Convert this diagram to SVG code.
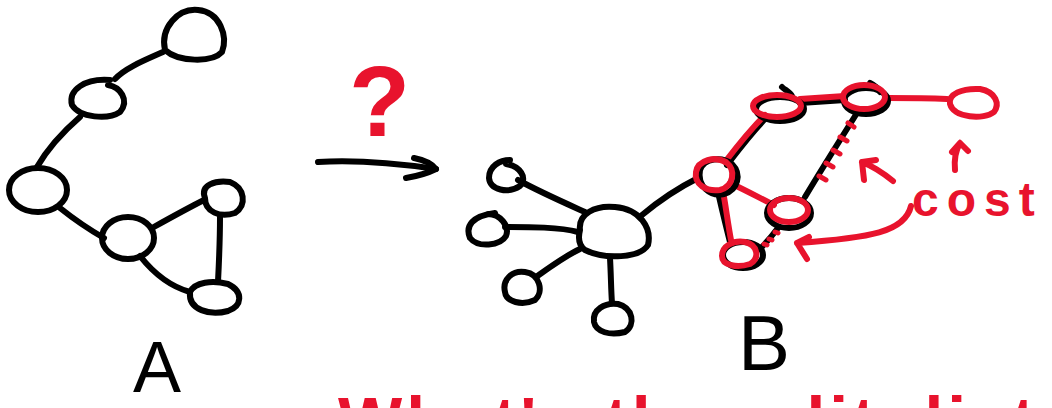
<svg xmlns="http://www.w3.org/2000/svg" width="1052" height="408" viewBox="0 0 1052 408">
  <style>
    .ink { fill: none; stroke: #000; stroke-width: 6; stroke-linecap: round; stroke-linejoin: round; }
    .red { fill: none; stroke: #e8132d; stroke-width: 6; stroke-linecap: round; stroke-linejoin: round; }
    .dots { fill: none; stroke: #e8132d; stroke-width: 5; stroke-linecap: round; }
    .hand { font-family: "Liberation Sans", "DejaVu Sans", sans-serif; font-weight: bold; fill: #e8132d; }
    .label { font-family: "Liberation Sans", "DejaVu Sans", sans-serif; fill: #000; }
  </style>
  <rect width="1052" height="408" fill="#fff"/>

  <!-- connectors -->
  <g id="connectors">
    <!-- graph A -->
    <path class="ink" d="M163 52 C 145 60, 125 68, 115 79"/>
    <path class="ink" d="M80 117 C 65 130, 48 148, 37 167"/>
    <path class="ink" d="M60 208 C 75 220, 90 230, 104 238"/>
    <path class="ink" d="M152 228 C 170 218, 188 208, 204 200"/>
    <path class="ink" d="M220 217 C 220 240, 219 262, 218 282"/>
    <path class="ink" d="M140 256 C 155 275, 172 287, 190 292"/>
    <!-- graph B, black part -->
    <path class="ink" d="M518 180 C 540 192, 565 203, 585 212"/>
    <path class="ink" d="M505 227 C 530 227, 560 227, 578 232"/>
    <path class="ink" d="M536 277 C 550 267, 565 256, 580 249"/>
    <path class="ink" d="M610 258 C 611 275, 611 290, 612 303"/>
    <path class="ink" d="M642 215 C 660 200, 678 188, 698 178"/>
    <!-- black shadows under the red path -->
    <path class="ink" d="M727 165 C 740 148, 752 132, 767 117"/>
    <path class="ink" d="M800 103 C 815 102, 830 101, 845 100"/>
    <path class="ink" d="M718 192 C 722 210, 726 226, 730 242"/>
    <!-- edges that get removed (dotted) -->
    <path class="ink" d="M857 113 C 840 140, 820 172, 805 197"/>
    <path class="ink" d="M778 228 C 772 236, 766 243, 760 249"/>
    <!-- red path -->
    <path class="red" d="M725 162 C 738 145, 750 130, 765 115"/>
    <path class="red" d="M800 99 C 815 98, 830 97, 845 96"/>
    <path class="red" d="M888 98 C 905 98, 925 98, 947 99"/>
    <path class="red" d="M730 183 C 745 190, 760 198, 774 205"/>
    <path class="red" d="M723 191 C 726 208, 728 224, 731 240"/>
    <!-- red cost marks on the removed edges -->
    <path class="dots" d="M848 123 l6 4 M840 137 l7 4 M833 150 l7 4 M826 163 l7 4 M819 176 l7 4"/>
    <path class="dots" d="M775 232 l3 1 M769 239 l3 1 M764 244 l3 1"/>
    <!-- transition arrow between A and B -->
    <path class="ink" d="M318 162 C 350 160, 395 163, 436 169"/>
    <path class="ink" d="M414 158 C 424 160, 432 164, 436 169 C 428 173, 418 176, 406 178"/>
    <!-- cost pointers -->
    <path class="red" d="M893 181 C 882 172, 872 166, 862 162 M862 162 L876 160 M862 162 L864 180"/>
    <path class="red" d="M955 170 C 954 160, 956 150, 960 143 M960 143 L952 152 M960 143 L968 151"/>
    <path class="red" d="M911 206 C 905 232, 870 238, 797 243 M797 243 L809 237 M797 243 L807 259"/>
  </g>

  <!-- graph A nodes -->
  <g id="a1"><path class="ink" d="M165 50 C 160 28, 178 8, 198 10 C 220 12, 228 36, 222 52 C 212 63, 178 62, 165 50 Z"/></g>
  <g id="a2"><path class="ink" d="M108 85 C 120 87, 130 100, 120 112 C 108 120, 80 118, 72 105 C 68 90, 85 78, 110 80"/></g>
  <g id="a3"><ellipse class="ink" cx="38" cy="190" rx="29" ry="22"/></g>
  <g id="a4"><ellipse class="ink" cx="128" cy="238" rx="26" ry="21"/></g>
  <g id="a5"><path class="ink" d="M205 198 C 200 185, 215 180, 230 182 C 245 188, 247 205, 235 213 C 220 218, 205 212, 205 198 Z"/></g>
  <g id="a6"><path class="ink" d="M190 292 C 195 282, 212 280, 228 284 C 244 292, 242 306, 228 311 C 210 316, 188 310, 190 292 Z"/></g>

  <!-- graph B nodes -->
  <g id="b-hub"><path class="ink" d="M580 230 C 578 214, 595 205, 615 207 C 640 209, 652 228, 648 245 C 640 258, 605 260, 585 250 C 578 245, 578 238, 580 230 Z"/></g>
  <g id="b-leaf1"><path class="ink" d="M506 164 C 520 166, 528 178, 520 186 C 508 194, 490 190, 489 178 C 489 166, 500 160, 510 160"/></g>
  <g id="b-leaf2"><path class="ink" d="M488 214 C 500 214, 510 226, 506 236 C 500 246, 478 248, 470 238 C 465 226, 472 216, 495 213"/></g>
  <g id="b-leaf3"><path class="ink" d="M505 292 C 502 280, 512 270, 525 272 C 540 274, 544 292, 535 300 C 522 306, 506 302, 505 292 Z"/></g>
  <g id="b-leaf4"><path class="ink" d="M594 322 C 592 310, 605 302, 618 304 C 633 308, 636 325, 625 332 C 610 336, 596 332, 594 322 Z"/></g>

  <!-- nodes on the red path: black sketch first, red trace over it -->
  <g id="r1">
    <path class="ink" d="M700 170 C 704 158, 722 156, 732 164 C 742 174, 738 190, 724 194 C 710 197, 697 186, 700 170 Z"/>
    <path class="red" d="M696 172 C 698 160, 715 156, 726 162 C 736 170, 734 186, 720 190 C 706 192, 694 184, 696 172 Z"/>
  </g>
  <g id="r2">
    <path class="ink" d="M782 87 C 785 90, 790 92, 792 96"/>
    <ellipse class="ink" cx="780" cy="109" rx="24" ry="12"/>
    <ellipse class="red" cx="777" cy="106" rx="24" ry="11"/>
  </g>
  <g id="r3">
    <path class="ink" d="M870 83 C 874 85, 878 88, 880 92"/>
    <ellipse class="ink" cx="866" cy="101" rx="22" ry="13"/>
    <ellipse class="red" cx="864" cy="97" rx="21" ry="12"/>
  </g>
  <g id="r4">
    <path class="red" d="M950 104 C 948 94, 962 88, 980 89 C 996 92, 1000 104, 994 112 C 984 120, 954 118, 950 104 Z"/>
  </g>
  <g id="r5">
    <ellipse class="ink" cx="789" cy="213" rx="22" ry="15"/>
    <ellipse class="red" cx="789" cy="210" rx="19" ry="12"/>
  </g>
  <g id="r6">
    <ellipse class="ink" cx="743" cy="255" rx="20" ry="13"/>
    <path class="red" d="M722 256 C 722 246, 733 240, 745 242 C 758 245, 760 258, 750 264 C 738 268, 722 266, 722 256 Z"/>
  </g>

  <!-- labels -->
  <g id="labels">
    <text class="hand" x="349" y="136" font-size="100">?</text>
    <text class="hand" x="912" y="216" font-size="48" letter-spacing="8">cost</text>
    <text class="label" x="133" y="392" font-size="72">A</text>
    <text class="label" x="738" y="370" font-size="78">B</text>
    <text class="hand" x="338" y="445" font-size="68" letter-spacing="4">What's the edit distance?</text>
  </g>
</svg>
